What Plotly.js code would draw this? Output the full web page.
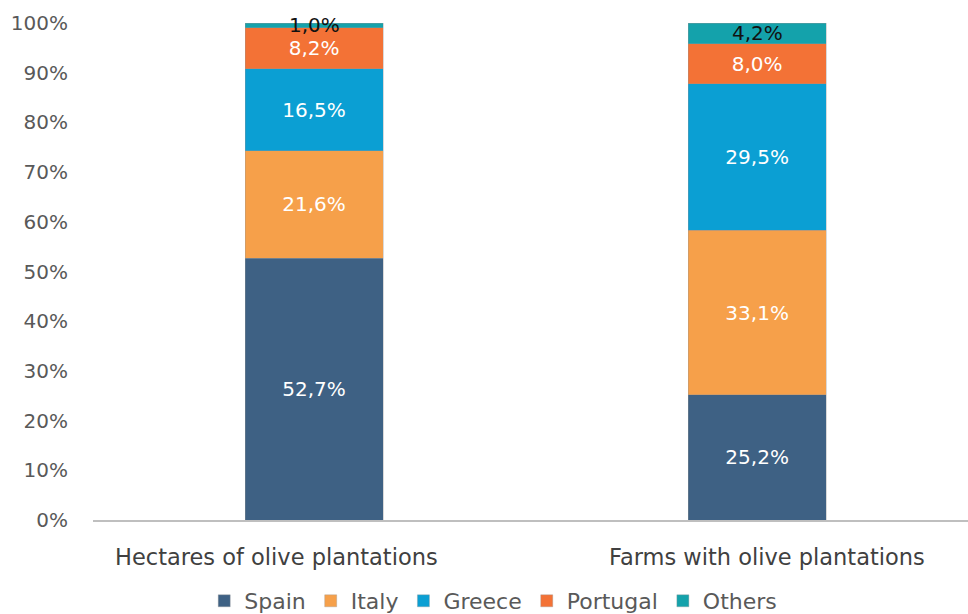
<!DOCTYPE html>
<html>
<head>
<meta charset="utf-8">
<script src="https://cdn.plot.ly/plotly-3.0.1.min.js"></script>
<style>html,body{margin:0;padding:0;background:#fff;}#chart{width:968px;height:614px;}</style>
</head>
<body>
<div id="chart"></div>
<script>
const categories = ["Hectares of olive plantations", "Farms with olive plantations"];
const seriesNames = ["Spain", "Italy", "Greece", "Portugal", "Others"];
const spain = [52.7, 25.2];
const italy = [21.6, 33.1];
const greece = [16.5, 29.5];
const portugal = [8.2, 8.0];
const others = [1.0, 4.2];
const yTicks = [0, 10, 20, 30, 40, 50, 60, 70, 80, 90, 100];

const values = [spain, italy, greece, portugal, others];
const colors = ["#3E6184", "#F6A04A", "#0B9FD3", "#F37236", "#14A2AB"];
const FONT = "DejaVu Sans, sans-serif";
const fmt = v => v.toFixed(1).replace(".", ",") + "%";

const traces = values.map((v, i) => ({
  type: "bar",
  name: seriesNames[i],
  x: categories,
  y: v,
  width: 0.3115,
  marker: {color: colors[i], line: {color: "rgba(150,150,150,0.6)", width: 0.6}},
  texttemplate: "%{y:.1f}%",
  textposition: i === values.length - 1 ? "none" : "inside",
  insidetextanchor: "middle",
  constraintext: "none",
  textfont: {family: FONT, size: 20, color: "#ffffff"},
  hoverinfo: "none"
}));

// Others labels (drawn over the thin top segment, like the reference)
const annotations = categories.map((c, j) => {
  const below = spain[j] + italy[j] + greece[j] + portugal[j];
  return {
    xref: "x", yref: "y", x: c, y: below + others[j] / 2,
    text: fmt(others[j]), showarrow: false,
    xanchor: "center", yanchor: "middle",
    font: {family: FONT, size: 20, color: "#111111"}
  };
});
// Category labels
const labelShift = [-38, 10];
categories.forEach((c, j) => {
  annotations.push({
    xref: "x", yref: "paper", x: c, y: 0,
    text: c, showarrow: false,
    xanchor: "center", yanchor: "middle",
    xshift: labelShift[j], yshift: -37,
    font: {family: FONT, size: 22.5, color: "#404040"}
  });
});

const layout = {
  width: 968,
  height: 614,
  barmode: "stack",
  separators: ",.",
  margin: {l: 93, r: 0, t: 23, b: 94, pad: 0, autoexpand: false},
  paper_bgcolor: "#ffffff",
  plot_bgcolor: "#ffffff",
  showlegend: true,
  legend: {
    orientation: "h",
    x: 0.4574, xanchor: "center",
    y: -0.163, yanchor: "middle",
    font: {family: FONT, size: 22, color: "#595959"},
    itemwidth: 30,
    traceorder: "normal"
  },
  annotations: annotations,
  xaxis: {
    type: "category",
    range: [-0.499, 1.476],
    showgrid: false,
    showline: true,
    linecolor: "#BFBFBF",
    linewidth: 2,
    ticks: "",
    showticklabels: false,
    zeroline: false
  },
  yaxis: {
    range: [0, 100],
    tickvals: yTicks,
    ticktext: yTicks.map(t => t + "%"),
    showgrid: false,
    showline: false,
    zeroline: false,
    ticks: "",
    ticklabelstandoff: 24,
    tickfont: {family: FONT, size: 20, color: "#595959"}
  }
};

Plotly.newPlot("chart", traces, layout, {displayModeBar: false, staticPlot: true});
</script>
</body>
</html>
